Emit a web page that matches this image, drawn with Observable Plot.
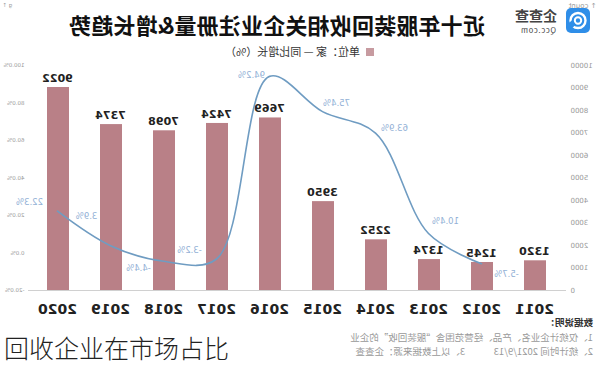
<!DOCTYPE html>
<html><head><meta charset="utf-8">
<script src="https://cdn.jsdelivr.net/npm/d3@7"></script>
<script src="https://cdn.jsdelivr.net/npm/@observablehq/plot@0.6"></script>
<style>
body{margin:0;background:#fff;font-family:"Noto Sans CJK SC","Noto Sans",sans-serif;}
#page{position:relative;width:600px;height:369px;overflow:hidden;background:#fff;}
#mirror{position:absolute;left:0;top:0;width:600px;height:369px;transform:scaleX(-1);}
.abs{position:absolute;white-space:nowrap;line-height:1;}
#title{left:115px;top:13px;font-size:22px;font-weight:bold;color:#111;letter-spacing:0.2px;}
#legend{left:226px;top:46px;font-size:11px;color:#333;}
#legend .sq{display:inline-block;width:8px;height:8px;background:#c79ba0;margin-right:6px;}
.note{font-size:9.5px;color:#999;}
#caption{left:4px;top:335px;font-size:25px;color:#222;font-weight:300;}
</style></head><body>
<div id="page">
 <div id="mirror">
  <svg class="abs" style="left:10px;top:8px" width="24" height="25" viewBox="0 0 24 25">
    <rect x="0" y="0" width="24" height="25" rx="5" fill="#2f8ee8"/>
    <circle cx="12" cy="12.5" r="7.5" fill="none" stroke="#fff" stroke-width="2.4"/>
    <circle cx="12" cy="12.5" r="3.2" fill="none" stroke="#fff" stroke-width="2"/>
    <rect x="15" y="14" width="8" height="6" fill="#2f8ee8" transform="rotate(40 19 17)"/>
  </svg>
  <div class="abs" style="left:43px;top:8px;font-size:14px;font-weight:bold;color:#444;">企查查</div>
  <div class="abs" style="left:44px;top:26px;font-size:7.5px;color:#444;letter-spacing:0.8px;">Qcc.com</div>
  <div id="title" class="abs">近十年服装回收相关企业注册量&amp;增长趋势</div>
  <div id="legend" class="abs"><span class="sq"></span>单位：家 <span style="color:#555">—</span> 同比增长（%）</div>
  <div id="bars" class="abs" style="left:0;top:0"></div>
  <div id="line" class="abs" style="left:0;top:0"></div>
  <div class="abs note" style="left:7px;top:318px;color:#333;font-weight:bold;">数据说明：</div>
  <div class="abs note" style="left:7px;top:333px;">1、仅统计企业名、产品、经营范围含“服装回收”的企业</div>
  <div class="abs note" style="left:7px;top:347px;">2、统计时间 2021/9/13　　　3、以上数据来源：企查查</div>
 </div>
 <div id="caption" class="abs">回收企业在市场占比</div>
</div>
<script>
const years = ["2011","2012","2013","2014","2015","2016","2017","2018","2019","2020"];
const counts = [1320,1245,1374,2252,3950,7669,7424,7098,7374,9022];
const growthYears = ["2012","2013","2014","2015","2016","2017","2018","2019","2020"];
const growth = [-5.7,10.4,63.9,75.4,94.2,-3.2,-4.4,3.9,22.3];
const countTicks = [0,1000,2000,3000,4000,5000,6000,7000,8000,9000,10000];
const pctTicks = [-20,0,20,40,60,80,100];
// label nudges (styling only)
const labelNudge = [[-25,11],[-17,-12],[-19,-5],[-14,-8],[18,-1],[27,-9],[25,7],[24,-29],[28,-9]];

const barData = years.map((y,i)=>({year:y, count:counts[i]}));
const lineData = growthYears.map((y,i)=>({year:y, g:growth[i]}));

const common = {
  width:600, height:320, marginTop:65, marginBottom:30, marginLeft:34, marginRight:28,
  style:{background:"transparent", fontFamily:"'DejaVu Sans', sans-serif"}
};
const xScale = {type:"band", domain:years, paddingInner:0.59, paddingOuter:0.295};

const p1 = Plot.plot({
  ...common,
  x: {...xScale, axis:null},
  y: {domain:[0,10000], axis:null},
  marks:[
    Plot.barY(barData,{x:"year", y:"count", fill:"#b98087"}),
    Plot.ruleY([0],{stroke:"#d0d0d0", strokeWidth:1}),
    Plot.text(barData,{x:"year", y:"count", text:d=>String(d.count), dy:-9, fontSize:11, fontWeight:"bold", fill:"#222"}),
    Plot.axisY(countTicks,{anchor:"left", tickSize:0, tickPadding:5, fontSize:7, fill:"#999", tickFormat:d=>String(d)}),
    Plot.axisX({anchor:"bottom", tickSize:0, tickPadding:14, fontSize:14, fontWeight:"bold", fill:"#222", label:null})
  ]
});
document.getElementById("bars").appendChild(p1);

const p2 = Plot.plot({
  ...common,
  x: {...xScale, axis:null},
  y: {domain:[-20,100], axis:null},
  marks:[
    Plot.line(lineData,{x:"year", y:"g", curve:"catmull-rom", stroke:"#6f9cc2", strokeWidth:1.6}),
    ...lineData.map((d,i)=>Plot.text([d],{x:"year", y:"g", text:d=>d.g.toFixed(1)+"%", dx:labelNudge[i][0], dy:labelNudge[i][1], fontSize:8.5, fill:"#93b1d6"})),
    Plot.axisY(pctTicks,{anchor:"right", tickSize:0, tickPadding:3, fontSize:5.5, fill:"#999", tickFormat:d=>d.toFixed(1)+"%"})
  ]
});
document.getElementById("line").appendChild(p2);
</script>
</body></html>
